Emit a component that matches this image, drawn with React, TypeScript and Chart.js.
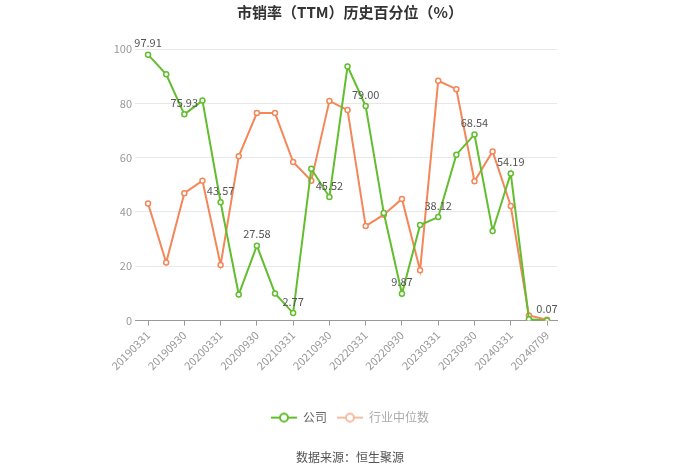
import React, { useEffect, useRef } from "react";
import { Chart, registerables } from "chart.js";

Chart.register(...registerables);

const dates = [
  "20190331", "20190630", "20190930", "20191231",
  "20200331", "20200630", "20200930", "20201231",
  "20210331", "20210630", "20210930", "20211231",
  "20220331", "20220630", "20220930", "20221231",
  "20230331", "20230630", "20230930", "20231231",
  "20240331", "20240630", "20240709",
];

const company = [
  97.91, 90.7, 75.93, 81.0, 43.57, 9.6, 27.58, 10.0, 2.77, 55.9, 45.52, 93.6,
  79.0, 39.6, 9.87, 35.2, 38.12, 61.1, 68.54, 33.0, 54.19, 0.5, 0.07,
];

const industry = [
  43.1, 21.4, 46.9, 51.5, 20.5, 60.5, 76.4, 76.4, 58.4, 51.5, 80.9, 77.5,
  34.8, 39.0, 44.8, 18.5, 88.3, 85.2, 51.3, 62.3, 42.2, 1.9, 0.3,
];

const labeledIdx = [0, 2, 4, 6, 8, 10, 12, 14, 16, 18, 20, 22];
const tickIdx = [0, 2, 4, 6, 8, 10, 12, 14, 16, 18, 20, 22];
const yTicks = [0, 20, 40, 60, 80, 100];

const seriesNames = ["公司", "行业中位数"];
const title = "市销率（TTM）历史百分位（%）";
const source = "数据来源：恒生聚源";

const GREEN = "#63BE2F";
const ORANGE = "#F4875A";

function legendIcon(color: string): HTMLCanvasElement {
  const c = document.createElement("canvas");
  c.width = 26;
  c.height = 12;
  const ctx = c.getContext("2d")!;
  ctx.strokeStyle = color;
  ctx.lineWidth = 2;
  ctx.beginPath();
  ctx.moveTo(0, 6);
  ctx.lineTo(26, 6);
  ctx.stroke();
  ctx.beginPath();
  ctx.arc(13, 6, 4, 0, Math.PI * 2);
  ctx.fillStyle = "#fff";
  ctx.fill();
  ctx.stroke();
  return c;
}

const dataLabelPlugin = {
  id: "dataLabels",
  afterDatasetsDraw(chart: any) {
    const meta = chart.getDatasetMeta(0);
    const ctx = chart.ctx;
    ctx.save();
    ctx.font = '11px "Noto Sans CJK SC", "Noto Sans", sans-serif';
    ctx.fillStyle = "#555";
    ctx.textAlign = "center";
    ctx.textBaseline = "bottom";
    labeledIdx.forEach((i) => {
      const p = meta.data[i];
      if (!p) return;
      ctx.fillText(company[i].toFixed(2), p.x, p.y - 6);
    });
    ctx.restore();
  },
};

export default function App() {
  const ref = useRef<HTMLCanvasElement>(null);

  useEffect(() => {
    if (!ref.current) return;
    Chart.defaults.font.family = '"Noto Sans CJK SC", "Noto Sans", sans-serif';
    const chart = new Chart(ref.current, {
      type: "line",
      data: {
        datasets: [
          {
            label: seriesNames[0],
            data: company.map((v, i) => ({ x: i, y: v })),
            borderColor: GREEN,
            backgroundColor: "#fff",
            borderWidth: 2,
            pointRadius: 2.5,
            pointBorderWidth: 1.5,
            pointBackgroundColor: "#fff",
            pointBorderColor: GREEN,
            tension: 0,
          },
          {
            label: seriesNames[1],
            data: industry.map((v, i) => ({ x: i, y: v })),
            borderColor: ORANGE,
            backgroundColor: "#fff",
            borderWidth: 2,
            pointRadius: 2.5,
            pointBorderWidth: 1.5,
            pointBackgroundColor: "#fff",
            pointBorderColor: ORANGE,
            tension: 0,
          },
        ],
      },
      options: {
        animation: false,
        responsive: false,
        layout: { padding: { left: 0, right: 0, top: 0, bottom: 0 } },
        scales: {
          x: {
            type: "linear",
            min: -0.72,
            max: 22.55,
            afterBuildTicks: (scale: any) => {
              scale.ticks = tickIdx.map((v) => ({ value: v }));
            },
            afterFit: (scale: any) => {
              scale.height = 81;
            },
            ticks: {
              autoSkip: false,
              maxRotation: 45,
              minRotation: 45,
              color: "#999",
              font: { size: 11 },
              callback: (v: any) => dates[Number(v)] ?? "",
            },
            grid: {
              display: true,
              drawOnChartArea: false,
              drawTicks: true,
              tickLength: 5,
              color: "#999",
            },
            border: { display: true, color: "#999" },
          },
          y: {
            min: 0,
            max: 100,
            afterBuildTicks: (scale: any) => {
              scale.ticks = yTicks.map((v) => ({ value: v }));
            },
            afterFit: (scale: any) => {
              scale.width = 135;
            },
            ticks: { color: "#999", font: { size: 11 }, padding: 3 },
            grid: { color: "#E8E8E8", drawTicks: false },
            border: { display: false },
          },
          yRight: {
            position: "right",
            min: 0,
            max: 100,
            afterFit: (scale: any) => {
              scale.width = 143;
            },
            ticks: { display: false },
            grid: { display: false, drawTicks: false },
            border: { display: false },
          },
        },
        plugins: {
          title: {
            display: true,
            text: title,
            color: "#333",
            font: { size: 15, weight: "bold" },
            padding: { top: 3, bottom: 28 },
          },
          subtitle: {
            display: true,
            text: source,
            position: "bottom",
            color: "#555",
            font: { size: 12 },
            padding: { top: 17, bottom: 9 },
          },
          legend: {
            position: "bottom",
            labels: {
              usePointStyle: true,
              pointStyleWidth: 26,
              padding: 10,
              font: { size: 12 },
              generateLabels: () => [
                {
                  text: seriesNames[0],
                  pointStyle: legendIcon(GREEN),
                  fontColor: "#666",
                  datasetIndex: 0,
                  lineWidth: 0,
                  strokeStyle: "transparent",
                  fillStyle: "transparent",
                },
                {
                  text: seriesNames[1],
                  pointStyle: legendIcon("#F7BCA4"),
                  fontColor: "#AAA",
                  datasetIndex: 1,
                  lineWidth: 0,
                  strokeStyle: "transparent",
                  fillStyle: "transparent",
                },
              ],
            },
          },
          tooltip: { enabled: false },
        },
      },
      plugins: [dataLabelPlugin],
    } as any);
    return () => chart.destroy();
  }, []);

  return (
    <div style={{ position: "absolute", left: 0, top: 0, width: 700, height: 474, background: "#fff" }}>
      <canvas ref={ref} width={700} height={474} />
    </div>
  );
}
